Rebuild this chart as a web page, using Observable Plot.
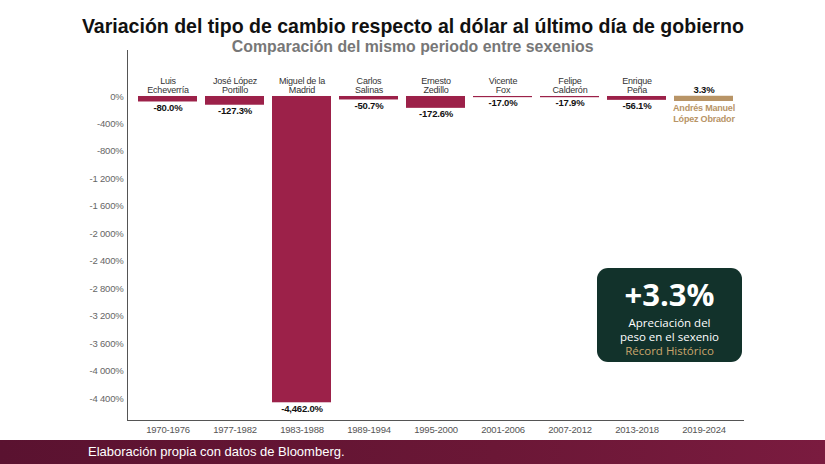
<!DOCTYPE html>
<html>
<head>
<meta charset="utf-8">
<script src="https://cdn.jsdelivr.net/npm/d3@7"></script>
<script src="https://cdn.jsdelivr.net/npm/@observablehq/plot@0.6"></script>
<style>
  html, body { margin: 0; padding: 0; background: #ffffff; }
  body { width: 825px; height: 464px; position: relative; overflow: hidden; font-family: "Liberation Sans", Arial, sans-serif; }
  .hdr { position: absolute; left: 0; width: 825px; text-align: center; font-weight: bold; white-space: nowrap; }
  .hdr span { display: inline-block; transform-origin: center; }
  #title { top: 14px; font-size: 21px; color: #111; }
  #title span { transform: scaleX(0.93); }
  #subtitle { top: 38px; font-size: 16px; color: #777; }
  #subtitle span { transform: scaleX(0.99); }
  #chart { position: absolute; left: 0; top: 50px; }
  #box { position: absolute; left: 597px; top: 268px; width: 145px; height: 94px; background: #12322b; border-radius: 11px; text-align: center; font-family: "Open Sans", Lato, sans-serif; color: #fff; }
  #box .big { font-size: 31px; font-weight: bold; line-height: 36px; margin-top: 8px; margin-bottom: 4px; }
  #box .small { font-size: 11.5px; line-height: 14px; }
  #box .gold { color: #c9a56c; }
  #footer { position: absolute; left: 0; top: 440px; width: 825px; height: 24px; background: linear-gradient(90deg, #5a1230, #6b1736 60%, #7a1b3f); color: #fff; line-height: 22px; }
  #footer span { margin-left: 88px; font-family: "Liberation Sans", Arial, sans-serif; font-size: 13px; }
  #chart svg text { letter-spacing: -0.2px; }
</style>
</head>
<body>
<div id="title" class="hdr"><span>Variación del tipo de cambio respecto al dólar al último día de gobierno</span></div>
<div id="subtitle" class="hdr"><span>Comparación del mismo periodo entre sexenios</span></div>
<div id="chart"></div>
<div id="box">
  <div class="big">+3.3%</div>
  <div class="small">Apreciación del</div>
  <div class="small">peso en el sexenio</div>
  <div class="small gold">Récord Histórico</div>
</div>
<div id="footer"><span>Elaboración propia con datos de Bloomberg.</span></div>
<script>
const periods = ["1970-1976", "1977-1982", "1983-1988", "1989-1994", "1995-2000", "2001-2006", "2007-2012", "2013-2018", "2019-2024"];
const presidents = ["Luis\nEcheverría", "José López\nPortillo", "Miguel de la\nMadrid", "Carlos\nSalinas", "Ernesto\nZedillo", "Vicente\nFox", "Felipe\nCalderón", "Enrique\nPeña", "Andrés Manuel\nLópez Obrador"];
const values = [-80.0, -127.3, -4462.0, -50.7, -172.6, -17.0, -17.9, -56.1, 3.3];
const valueLabels = ["-80.0%", "-127.3%", "-4,462.0%", "-50.7%", "-172.6%", "-17.0%", "-17.9%", "-56.1%", "3.3%"];
const yTicks = [0, -400, -800, -1200, -1600, -2000, -2400, -2800, -3200, -3600, -4000, -4400];

const data = periods.map((p, i) => ({period: p, president: presidents[i], value: values[i], label: valueLabels[i]}));
const neg = data.filter(d => d.value < 0);
const pos = data.filter(d => d.value >= 0);

const fmt = d => (d < 0 ? "-" : "") + String(Math.abs(d)).replace(/\B(?=(\d{3})+(?!\d))/g, " ") + "%";

const FONT = "'Liberation Sans', Arial, sans-serif";

const chart = Plot.plot({
  width: 825,
  height: 390,
  marginTop: 0,
  marginBottom: 20,
  marginLeft: 127,
  marginRight: 82,
  style: {fontFamily: FONT, background: "transparent", overflow: "visible"},
  x: {domain: periods, padding: 0.12, label: null},
  y: {domain: [-4720, 670], label: null},
  marks: [
    Plot.frame({anchor: "left", stroke: "#555"}),
    Plot.frame({anchor: "bottom", stroke: "#555"}),
    Plot.axisY({ticks: yTicks, tickFormat: fmt, tickSize: 0, tickPadding: 4, fontSize: 9.5, fill: "#666", label: null}),
    Plot.axisX({tickSize: 0, tickPadding: 6, fontSize: 9.5, fill: "#555", label: null}),
    Plot.barY(neg, {x: "period", y: "value", fill: "#9c2149"}),
    Plot.barY(pos, {x: "period", y: "value", fill: "#b89466", insetBottom: -5}),
    Plot.text(neg, {x: "period", y: 0, text: "president", lineAnchor: "bottom", dy: -3, fontSize: 9, fill: "#333", lineHeight: 1.1}),
    Plot.text(neg, {x: "period", y: "value", text: "label", lineAnchor: "top", dy: 2, fontSize: 9.5, fontWeight: "bold", fill: "#111"}),
    Plot.text(pos, {x: "period", y: 0, text: "label", lineAnchor: "bottom", dy: -3, fontSize: 9.5, fontWeight: "bold", fill: "#111"}),
    Plot.text(pos, {x: "period", y: 0, text: "president", lineAnchor: "top", dy: 7, fontSize: 9, fontWeight: "bold", fill: "#b89466", lineHeight: 1.2})
  ]
});
document.getElementById("chart").appendChild(chart);
</script>
</body>
</html>
